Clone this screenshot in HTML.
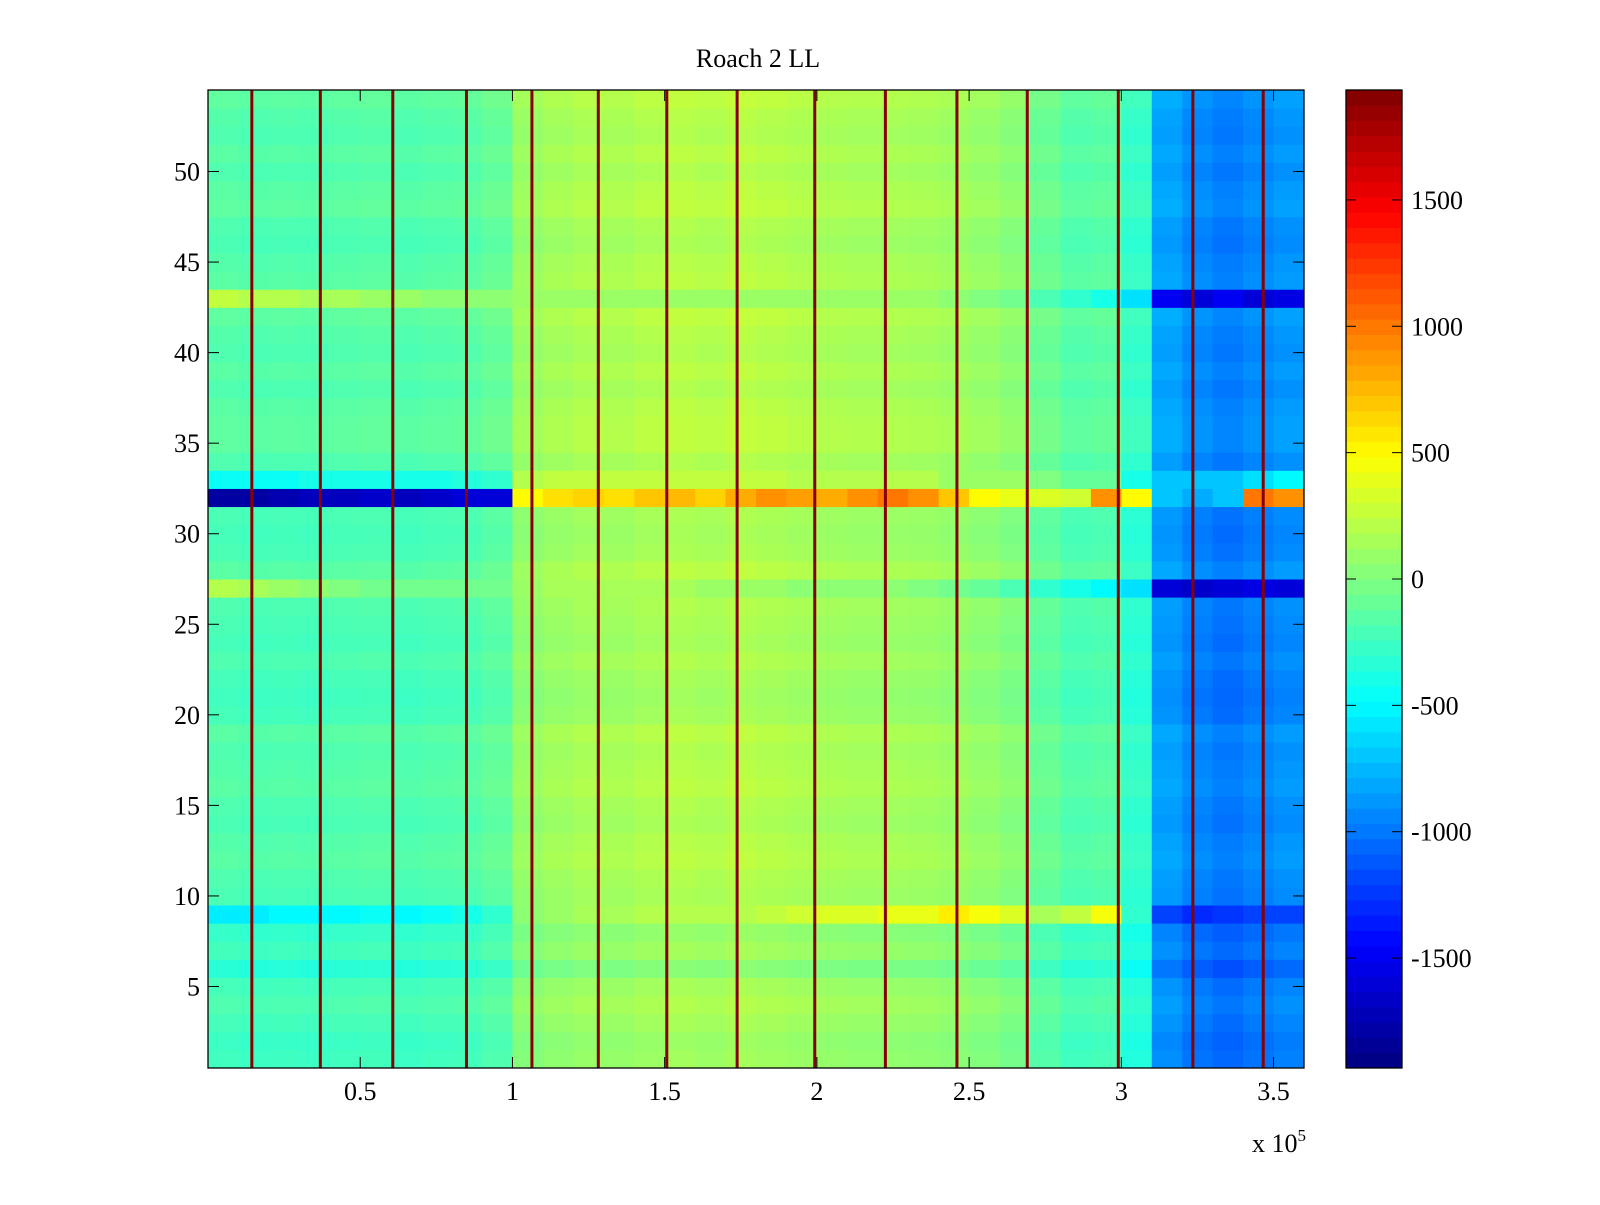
<!DOCTYPE html>
<html><head><meta charset="utf-8">
<style>
html,body{margin:0;padding:0;background:#fff;}
svg text{font-family:"Liberation Serif",serif;font-size:26px;fill:#000;}
</style></head>
<body>
<svg id="chart" width="1600" height="1200" xmlns="http://www.w3.org/2000/svg">
<text x="758" y="67" text-anchor="middle">Roach 2 LL</text>
<g id="cells"></g>
<g id="vlines"></g>
<g id="cbar"></g>
<g id="axes"></g>
</svg>
<script>
// ---- data ----
const xBinWidth = 1e4;
const colMeans = [-180,-200,-190,-200,-180,-170,-200,-180,-170,-120,
                  80,120,150,140,170,190,170,200,180,160,
                  140,130,130,120,100,70,20,-100,-180,-160,
                  -300,-850,-950,-1000,-950,-900];
const rowOffsets = [ -60,-80,-40,0,-40,-150,-50,-100,-200,-20,
                      0,40,20,-20,0,40,20,0,40,-40,
                      -60,-40,0,-40,-20,0,0,40,-20,-40,
                      -20,0,-80,0,60,60,40,0,40,0,
                      20,60,0,40,20,-20,0,60,40,0,
                      40,0,20,60];
const specialRows = [32, 27, 9, 33, 43];
const specialVals = [
  [-1800,-1800,-1750,-1700,-1700,-1650,-1700,-1650,-1600,-1600,500,600,650,600,700,750,650,800,900,850,800,900,1000,900,700,500,400,350,300,900,500,-700,-800,-700,1000,900],
  [200,150,100,50,0,-50,-50,-50,-50,-50,100,150,150,150,150,150,100,100,100,50,50,50,50,0,-50,-100,-200,-300,-400,-500,-600,-1600,-1650,-1600,-1550,-1600],
  [-550,-550,-500,-500,-500,-450,-500,-450,-400,-300,50,100,150,150,200,200,200,200,250,300,350,350,400,400,550,450,350,150,250,450,-300,-1200,-1300,-1250,-1200,-1200],
  [-450,-450,-450,-400,-400,-400,-400,-400,-350,-300,200,250,250,250,250,250,250,250,250,200,200,200,200,200,100,100,100,0,-100,-100,-400,-700,-700,-700,-600,-500],
  [250,200,200,150,150,100,100,50,50,50,100,100,100,100,100,100,100,100,100,100,100,100,100,100,50,0,-50,-200,-300,-400,-600,-1500,-1600,-1500,-1600,-1550]
];
const spikeX = [0.144e5,0.369e5,0.607e5,0.849e5,1.064e5,1.282e5,1.507e5,1.738e5,1.993e5,2.225e5,2.46e5,2.691e5,2.99e5,3.235e5,3.466e5];
const xTicks = [0.5e5,1e5,1.5e5,2e5,2.5e5,3e5,3.5e5];
const xTickLabels = ["0.5","1","1.5","2","2.5","3","3.5"];
const yTicks = [5,10,15,20,25,30,35,40,45,50];
const cTicks = [-1500,-1000,-500,0,500,1000,1500];

// ---- geometry ----
const L=208,R=1304,T=90,B=1068;
const xMin=0,xMax=3.6e5,yMin=0.5,yMax=54.5,cMin=-1935,cMax=1935;
const sx=v=>L+(v-xMin)/(xMax-xMin)*(R-L);
const sy=v=>B-(v-yMin)/(yMax-yMin)*(B-T);
const NS="http://www.w3.org/2000/svg";
function jet(v){
  let t=(v-cMin)/(cMax-cMin); t=Math.max(0,Math.min(1,t));
  const f=x=>Math.round(255*Math.max(0,Math.min(1,1.5-Math.abs(4*t-x))));
  return `rgb(${f(3)},${f(2)},${f(1)})`;
}
function mk(tag,attrs,parent){const e=document.createElementNS(NS,tag);for(const k in attrs)e.setAttribute(k,attrs[k]);parent.appendChild(e);return e;}

const cells=document.getElementById('cells');
for(let r=1;r<=rowOffsets.length;r++){
  const si=specialRows.indexOf(r);
  for(let c=0;c<colMeans.length;c++){
    const v = si>=0 ? specialVals[si][c] : colMeans[c]+rowOffsets[r-1];
    const x0=sx(c*xBinWidth), x1=sx((c+1)*xBinWidth);
    const e=mk('rect',{x:x0,y:sy(r+0.5),width:x1-x0+0.5,height:sy(r-0.5)-sy(r+0.5)+0.5,fill:jet(v)},cells);
    
    
  }
}
const vl=document.getElementById('vlines');
spikeX.forEach(x=>{
  const e=mk('rect',{x:sx(x)-1.5,y:T,width:3,height:B-T,fill:'#880000'},vl);
  
  
});

const ax=document.getElementById('axes');
mk('rect',{x:L,y:T,width:R-L,height:B-T,fill:'none',stroke:'#000','stroke-width':1.3},ax);
xTicks.forEach((t,i)=>{
  const x=sx(t);
  mk('line',{x1:x,y1:B,x2:x,y2:B-11,stroke:'#000'},ax);
  mk('line',{x1:x,y1:T,x2:x,y2:T+11,stroke:'#000'},ax);
  const e=mk('text',{x:x,y:B+32,'text-anchor':'middle'},ax);
  e.textContent=xTickLabels[i];
  
  
});
yTicks.forEach(t=>{
  const y=sy(t);
  mk('line',{x1:L,y1:y,x2:L+11,y2:y,stroke:'#000'},ax);
  mk('line',{x1:R,y1:y,x2:R-11,y2:y,stroke:'#000'},ax);
  const e=mk('text',{x:L-8,y:y+9,'text-anchor':'end'},ax);
  e.textContent=String(t);
  
  
});
const ex=mk('text',{x:1252,y:1152},ax);
ex.innerHTML='x 10<tspan dy="-11" font-size="17">5</tspan>';



// colorbar
const cb=document.getElementById('cbar');
const CL=1346,CR=1402;
const cy=v=>B-(v-cMin)/(cMax-cMin)*(B-T);
for(let i=0;i<64;i++){
  const v0=cMin+(cMax-cMin)*i/64, v1=cMin+(cMax-cMin)*(i+1)/64;
  mk('rect',{x:CL,y:cy(v1),width:CR-CL,height:cy(v0)-cy(v1)+0.5,fill:jet((v0+v1)/2)},cb);
}
mk('rect',{x:CL,y:T,width:CR-CL,height:B-T,fill:'none',stroke:'#000','stroke-width':1.3},cb);
cTicks.forEach(t=>{
  const y=cy(t);
  mk('line',{x1:CL,y1:y,x2:CL+10,y2:y,stroke:'#000'},cb);
  mk('line',{x1:CR,y1:y,x2:CR-10,y2:y,stroke:'#000'},cb);
  const e=mk('text',{x:CR+9,y:y+9},cb);
  e.textContent=String(t);
  
  
});
</script>
</body></html>
